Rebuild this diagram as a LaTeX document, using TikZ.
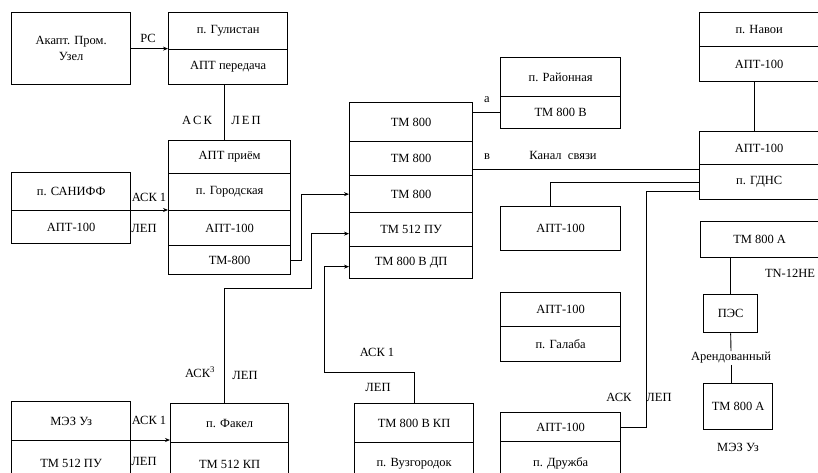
\documentclass[tikz,border=0pt]{standalone}
\usepackage{fontspec}
\setmainfont{Liberation Serif}
\usetikzlibrary{arrows.meta,calc}
\tikzset{
  cell/.style={draw, line width=1.3pt, inner sep=0pt, anchor=north west, align=center,
    font=\fontsize{12.5}{15}\selectfont},
  lbl/.style={inner sep=1pt, font=\fontsize{12.5}{15}\selectfont},
  conn/.style={line width=0.9pt},
  arr/.style={conn, -{Stealth[length=5pt,width=4pt]}}
}
\newcommand\mkcell[6]{\node[cell,minimum width={(#4-#2)*1pt},minimum height={(#5-#3)*1pt}] (#1) at (#2,#3) {#6};}
\begin{document}
\begin{tikzpicture}[x=1pt,y=-1pt]
\useasboundingbox (0,0) rectangle (818,473);
\clip (0,0) rectangle (818,473);
% left column
\mkcell{akapt}{11}{12}{130}{84}{Акапт. Пром.\\[1pt] Узел}
\mkcell{gul1}{168}{12}{287}{49}{п. Гулистан}
\mkcell{gul2}{168}{49}{287}{84}{АПТ передача}
\mkcell{gor1}{168}{140}{290}{173}{АПТ приём}
\mkcell{gor2}{168}{173}{290}{210}{п. Городская}
\mkcell{gor3}{168}{210}{290}{245}{АПТ-100}
\mkcell{gor4}{168}{245}{290}{274}{ТМ-800}
\mkcell{san1}{11}{172}{130}{210}{п. САНИФФ}
\mkcell{san2}{11}{210}{130}{243}{АПТ-100}
\mkcell{mez1}{11}{401}{130}{440}{МЭЗ Уз}
\mkcell{mez2}{11}{440}{130}{485}{ТМ 512 ПУ}
\mkcell{fak1}{170}{403}{288}{442}{п. Факел}
\mkcell{fak2}{170}{442}{288}{485}{ТМ 512 КП}
% centre
\mkcell{cen1}{349}{102}{472}{141}{ТМ 800}
\mkcell{cen2}{349}{141}{472}{175}{ТМ 800}
\mkcell{cen3}{349}{175}{472}{212}{ТМ 800}
\mkcell{cen4}{349}{212}{472}{246}{ТМ 512 ПУ}
\mkcell{cen5}{349}{246}{472}{278}{ТМ 800 В ДП}
\mkcell{kp1}{354}{403}{473}{442}{ТМ 800 В КП}
\mkcell{kp2}{354}{442}{473}{485}{п. Вузгородок}
% middle right
\mkcell{rai1}{500}{57}{620}{96}{п. Районная}
\mkcell{rai2}{500}{96}{620}{128}{ТМ 800 В}
\mkcell{apts}{500}{206}{620}{250}{АПТ-100}
\mkcell{gal1}{500}{292}{620}{326}{АПТ-100}
\mkcell{gal2}{500}{326}{620}{361}{п. Галаба}
\mkcell{dr1}{500}{412}{620}{441}{АПТ-100}
\mkcell{dr2}{500}{441}{620}{485}{п. Дружба}
% right
\mkcell{nav1}{699}{12}{818}{46}{п. Навои}
\mkcell{nav2}{699}{46}{818}{81}{АПТ-100}
\mkcell{gd1}{699}{131}{818}{164}{АПТ-100}
\mkcell{gd2}{699}{164}{818}{199}{п. ГДНС}
\mkcell{tma}{700}{221}{818}{257}{ТМ 800 А}
\mkcell{pes}{703}{294}{757}{332}{ПЭС}
\mkcell{tmb}{703}{383}{772}{429}{ТМ 800 А}
% labels
\node[lbl] (lrs) at (148,38) {РС};
\node[lbl] (lask0) at (197,120) {А\,С\,К};
\node[lbl] (llep0) at (246,120) {Л\,Е\,П};
\node[lbl] (lask1) at (149,197) {АСК 1};
\node[lbl] (llep1) at (144,228) {ЛЕП};
\node[lbl] (lask3) at (200,372) {АСК\textsuperscript{3}};
\node[lbl] (llep3) at (245,375) {ЛЕП};
\node[lbl] (lask4) at (149,420) {АСК 1};
\node[lbl] (llep4) at (144,461) {ЛЕП};
\node[lbl] (lask5) at (377,352) {АСК 1};
\node[lbl] (llep5) at (378,387) {ЛЕП};
\node[lbl] (la) at (487,100) {а};
\node[lbl] (lv) at (487,157) {в};
\node[lbl] (lkan) at (563,155) {Канал\ \ связи};
\node[lbl] (lask6) at (619,397) {АСК};
\node[lbl] (llep6) at (659,397) {ЛЕП};
\node[lbl] (ltn) at (790,273) {TN-12HE};
\node[lbl] (larend) at (731,358) {Арендованный};
\node[lbl] (lmez) at (738,447) {МЭЗ Уз};
% connectors
\draw[arr] (akapt.east) -- (akapt.east -| gul1.south west);
\draw[conn] ([xshift=-4pt]gul2.south) -- ([xshift=-4pt]gul2.south |- gor1.north);
\draw[arr] (san2.north east) -- (gor3.north west);
\draw[arr] (gor4.east) -- ++(10,0) |- (cen3.west);
\coordinate (j1) at (311,288);
\draw[arr] ([xshift=-5pt]fak1.north) |- (j1) |- ([yshift=-4pt]cen4.west);
\coordinate (j2) at (324,372);
\draw[arr] (kp1.north) |- (j2) |- ([yshift=-4pt]cen5.west);
\draw[arr] (mez2.north east) -- (mez2.north east -| fak2.west);
\draw[conn] (rai2.west -| cen1.east) -- (rai2.west);
\draw[conn] ([yshift=-11pt]cen2.east) -- ([yshift=-11pt]cen2.east -| gd2.west);
\draw[conn] (gd2.west) -| ([xshift=-10pt]apts.north);
\draw[conn] ([yshift=-9pt]gd2.west) -- ++(-53,0) |- (dr1.east);
\draw[conn] ([xshift=-5pt]nav2.south) -- ([xshift=-5pt]nav2.south |- gd1.north);
\draw[conn] (pes.north |- tma.south) -- (pes.north);
\draw[conn] (pes.south) -- (larend.north);
\draw[conn] (larend.south) -- (larend.south |- tmb.north);
\end{tikzpicture}
\end{document}
